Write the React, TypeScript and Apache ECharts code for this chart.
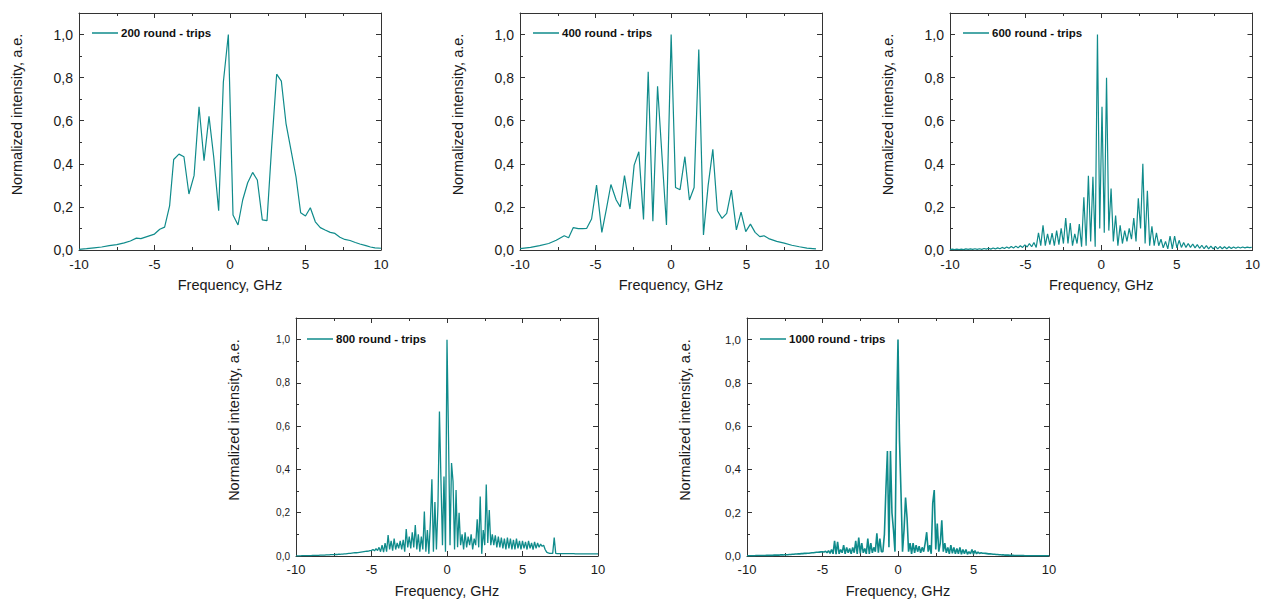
import React, { useEffect, useRef } from 'react';
import * as echarts from 'echarts';

// ---------- data ----------
const names = ['200 round - trips', '400 round - trips', '600 round - trips', '800 round - trips', '1000 round - trips'];

const f200 = [-10, -9.5, -9, -8.5, -8, -7.5, -7, -6.6, -6.2, -5.9, -5.6, -5.3, -5.0, -4.65, -4.33, -4.0, -3.73, -3.38, -3.05, -2.72, -2.38, -2.05, -1.72, -1.39, -1.08, -0.75, -0.44, -0.11, 0.2, 0.53, 0.84, 1.17, 1.5, 1.81, 2.14, 2.45, 2.76, 3.09, 3.4, 3.71, 4.04, 4.37, 4.68, 5.0, 5.32, 5.65, 5.98, 6.3, 6.64, 6.95, 7.28, 7.6, 7.95, 8.3, 8.6, 9.0, 9.3, 9.6, 10];
const i200 = [0.003, 0.006, 0.01, 0.014, 0.02, 0.025, 0.033, 0.042, 0.055, 0.053, 0.06, 0.067, 0.074, 0.096, 0.106, 0.205, 0.42, 0.445, 0.433, 0.26, 0.345, 0.665, 0.415, 0.62, 0.433, 0.182, 0.78, 1.0, 0.162, 0.116, 0.232, 0.312, 0.36, 0.325, 0.14, 0.136, 0.48, 0.816, 0.784, 0.587, 0.464, 0.34, 0.173, 0.158, 0.196, 0.131, 0.104, 0.093, 0.082, 0.077, 0.059, 0.049, 0.044, 0.035, 0.028, 0.02, 0.014, 0.01, 0.008];

const f400 = [-10, -9.3, -8.7, -8.1, -7.6, -7.07, -6.78, -6.47, -6.14, -5.85, -5.59, -5.26, -4.93, -4.58, -4.28, -3.98, -3.63, -3.36, -3.08, -2.72, -2.44, -2.13, -1.82, -1.51, -1.2, -0.89, -0.6, -0.3, 0.01, 0.3, 0.6, 0.92, 1.22, 1.53, 1.84, 2.15, 2.46, 2.77, 3.07, 3.38, 3.69, 4.0, 4.33, 4.64, 4.95, 5.26, 5.57, 5.88, 6.16, 6.47, 7.0, 7.5, 8.0, 8.5, 9.0, 9.6];
const i400 = [0.006, 0.012, 0.02, 0.03, 0.045, 0.066, 0.057, 0.104, 0.099, 0.099, 0.1, 0.144, 0.301, 0.082, 0.19, 0.304, 0.232, 0.2, 0.345, 0.19, 0.394, 0.456, 0.142, 0.827, 0.133, 0.76, 0.44, 0.116, 1.0, 0.29, 0.28, 0.433, 0.232, 0.29, 0.93, 0.07, 0.3, 0.467, 0.182, 0.147, 0.17, 0.278, 0.093, 0.176, 0.085, 0.12, 0.082, 0.062, 0.066, 0.053, 0.04, 0.032, 0.022, 0.015, 0.009, 0.005];

// 600 round-trips: samples every 0.15 GHz from -10 GHz
const start600 = -10;
const step600 = 0.15;
const i600 = [
  0.002, 0.004, 0.002, 0.004, 0.002, 0.004, 0.002, 0.005, 0.003, 0.005,
  0.003, 0.006, 0.003, 0.006, 0.003, 0.007, 0.004, 0.008, 0.004, 0.009,
  0.005, 0.01, 0.006, 0.012, 0.007, 0.014, 0.008, 0.016, 0.009, 0.018,
  0.01, 0.02, 0.012, 0.024, 0.014, 0.03, 0.015, 0.035, 0.012, 0.08,
  0.02, 0.115, 0.02, 0.075, 0.025, 0.078, 0.02, 0.09, 0.025, 0.1,
  0.03, 0.148, 0.03, 0.125, 0.02, 0.075, 0.03, 0.12, 0.015, 0.245,
  0.02, 0.345, 0.04, 0.34, 0.015, 1.0, 0.1, 0.665, 0.08, 0.8,
  0.09, 0.285, 0.04, 0.16, 0.02, 0.115, 0.03, 0.09, 0.04, 0.1,
  0.05, 0.148, 0.04, 0.24, 0.1, 0.4, 0.03, 0.275, 0.02, 0.11,
  0.02, 0.08, 0.02, 0.05, 0.01, 0.04, 0.005, 0.065, 0.005, 0.065,
  0.01, 0.045, 0.012, 0.035, 0.012, 0.03, 0.012, 0.028, 0.01, 0.025,
  0.008, 0.022, 0.006, 0.02, 0.005, 0.018, 0.005, 0.017, 0.005, 0.016,
  0.006, 0.015, 0.006, 0.015, 0.007, 0.014, 0.008, 0.014, 0.009, 0.014,
  0.01, 0.013, 0.011, 0.012,
];

// 800 round-trips: samples every 0.1 GHz from -10 GHz
const start800 = -10;
const step800 = 0.1;
const i800 = [
  0.001, 0.001, 0.001, 0.001, 0.002, 0.002, 0.002, 0.002, 0.002, 0.002,
  0.002, 0.003, 0.003, 0.003, 0.003, 0.003, 0.004, 0.004, 0.004, 0.004,
  0.005, 0.005, 0.005, 0.006, 0.006, 0.006, 0.007, 0.007, 0.008, 0.008,
  0.009, 0.009, 0.01, 0.01, 0.011, 0.012, 0.012, 0.013, 0.014, 0.015,
  0.015, 0.016, 0.017, 0.018, 0.019, 0.02, 0.021, 0.022, 0.023, 0.025,
  0.026, 0.03, 0.024, 0.034, 0.025, 0.04, 0.02, 0.05, 0.018, 0.06,
  0.02, 0.097, 0.03, 0.07, 0.025, 0.08, 0.03, 0.06, 0.035, 0.07,
  0.03, 0.075, 0.02, 0.125, 0.04, 0.09, 0.035, 0.11, 0.04, 0.143,
  0.03, 0.1, 0.02, 0.09, 0.03, 0.205, 0.02, 0.12, 0.01, 0.16,
  0.355, 0.02, 0.25, 0.03, 0.23, 0.668, 0.35, 0.05, 0.367, 0.02,
  1.0, 0.55, 0.05, 0.43, 0.344, 0.03, 0.305, 0.04, 0.2, 0.05,
  0.1, 0.03, 0.11, 0.04, 0.09, 0.05, 0.1, 0.03, 0.08, 0.05,
  0.17, 0.04, 0.275, 0.01, 0.12, 0.05, 0.33, 0.06, 0.213, 0.05,
  0.1, 0.05, 0.095, 0.04, 0.09, 0.04, 0.085, 0.035, 0.08, 0.03,
  0.085, 0.035, 0.08, 0.03, 0.075, 0.03, 0.08, 0.035, 0.07, 0.03,
  0.07, 0.035, 0.065, 0.03, 0.07, 0.035, 0.06, 0.03, 0.065, 0.035,
  0.06, 0.04, 0.055, 0.045, 0.05, 0.03, 0.018, 0.014, 0.012, 0.012,
  0.012, 0.085, 0.012, 0.011, 0.011, 0.011, 0.011, 0.011, 0.011, 0.011,
  0.011, 0.011, 0.011, 0.011, 0.011, 0.01, 0.01, 0.01, 0.01, 0.01,
  0.01, 0.01, 0.01, 0.01, 0.01, 0.01, 0.01, 0.01, 0.01, 0.01,
  0.01,
];

// 1000 round-trips: samples every 0.1 GHz from -10 GHz
const start1000 = -10;
const step1000 = 0.1;
const i1000 = [
  0.001, 0.001, 0.001, 0.001, 0.001, 0.001, 0.002, 0.002, 0.002, 0.002,
  0.002, 0.002, 0.002, 0.003, 0.003, 0.003, 0.003, 0.003, 0.004, 0.004,
  0.004, 0.004, 0.005, 0.005, 0.005, 0.006, 0.006, 0.006, 0.007, 0.007,
  0.008, 0.008, 0.009, 0.009, 0.01, 0.01, 0.011, 0.011, 0.012, 0.012,
  0.013, 0.013, 0.014, 0.015, 0.015, 0.016, 0.017, 0.017, 0.018, 0.019,
  0.02, 0.018, 0.022, 0.015, 0.025, 0.012, 0.03, 0.01, 0.07, 0.008,
  0.065, 0.01, 0.03, 0.015, 0.05, 0.01, 0.04, 0.015, 0.035, 0.01,
  0.04, 0.015, 0.07, 0.01, 0.085, 0.012, 0.06, 0.015, 0.035, 0.01,
  0.08, 0.01, 0.06, 0.015, 0.04, 0.02, 0.105, 0.015, 0.08, 0.02,
  0.02, 0.1, 0.31, 0.485, 0.04, 0.485, 0.2, 0.12, 0.02, 0.615,
  1.0, 0.53, 0.29, 0.02, 0.12, 0.27, 0.175, 0.02, 0.06, 0.01,
  0.06, 0.015, 0.05, 0.02, 0.045, 0.015, 0.04, 0.02, 0.06, 0.11,
  0.02, 0.05, 0.01, 0.245, 0.305, 0.03, 0.15, 0.02, 0.06, 0.165,
  0.02, 0.06, 0.015, 0.04, 0.01, 0.05, 0.012, 0.04, 0.01, 0.035,
  0.01, 0.04, 0.008, 0.03, 0.01, 0.03, 0.008, 0.02, 0.01, 0.03,
  0.008, 0.025, 0.01, 0.018, 0.012, 0.015, 0.013, 0.013, 0.012, 0.011,
  0.01, 0.01, 0.009, 0.008, 0.008, 0.007, 0.007, 0.006, 0.006, 0.005,
  0.005, 0.004, 0.004, 0.004, 0.003, 0.003, 0.003, 0.002, 0.002, 0.002,
  0.002, 0.002, 0.002, 0.002, 0.001, 0.001, 0.001, 0.001, 0.001, 0.001,
  0.001, 0.001, 0.001, 0.001, 0.001, 0.001, 0.001, 0.001, 0.001, 0.001,
  0.001,
];

const xTitle = 'Frequency, GHz';
const yTitle = 'Normalized intensity, a.e.';
const xTicks = { min: -10, max: 10, interval: 5 };
const yTicks = { min: 0, max: 1.1, interval: 0.2 };

// ---------- build ----------
const paired = (xs: number[], ys: number[]) => ys.map((y, i) => [xs[i], y]);
const stepped = (x0: number, dx: number, ys: number[]) =>
  ys.map((y, i) => [Math.round((x0 + i * dx) * 1000) / 1000, y]);

const seriesData = [
  paired(f200, i200),
  paired(f400, i400),
  stepped(start600, step600, i600),
  stepped(start800, step800, i800),
  stepped(start1000, step1000, i1000),
];

const layout = [
  { grid: { left: 79, top: 13, width: 302, height: 237 }, legend: { left: 92, top: 27 }, xFont: 13.5, yFont: 14, lw: 1.2 },
  { grid: { left: 520, top: 13, width: 302, height: 237 }, legend: { left: 533, top: 27 }, xFont: 13.5, yFont: 14, lw: 1.2 },
  { grid: { left: 950, top: 13, width: 303, height: 237 }, legend: { left: 963, top: 27 }, xFont: 13.5, yFont: 14, lw: 1.2 },
  { grid: { left: 296, top: 318, width: 302, height: 238 }, legend: { left: 307, top: 333 }, xFont: 13, yFont: 10, lw: 1.3 },
  { grid: { left: 747, top: 318, width: 302, height: 238 }, legend: { left: 760, top: 333 }, xFont: 13, yFont: 11.5, lw: 1.6 },
];

const LINE = '#0f8b8b';
const AX = '#333333';
const TXT = '#1a1a1a';
const FONT = '"Liberation Sans", Arial, sans-serif';

function buildOption() {
  const grid: any[] = [];
  const xAxis: any[] = [];
  const yAxis: any[] = [];
  const legend: any[] = [];
  const series: any[] = [];
  const axLine = { onZero: false, lineStyle: { color: AX, width: 1 } };
  const tick = { inside: true, length: 5, lineStyle: { color: AX, width: 1 } };
  const minor = { show: true, splitNumber: 2, length: 3, lineStyle: { color: AX, width: 1 } };
  layout.forEach((L, k) => {
    grid.push({ ...L.grid, containLabel: false });
    const xi = xAxis.length;
    xAxis.push({
      type: 'value', gridIndex: k, position: 'bottom', ...xTicks,
      axisLine: axLine, axisTick: tick, minorTick: minor,
      splitLine: { show: false }, minorSplitLine: { show: false },
      axisLabel: { margin: 7, fontSize: L.xFont, color: TXT, fontFamily: FONT },
      name: xTitle, nameLocation: 'middle', nameGap: 27,
      nameTextStyle: { fontSize: 14.5, color: TXT, fontFamily: FONT },
    });
    xAxis.push({
      type: 'value', gridIndex: k, position: 'top', ...xTicks,
      axisLine: axLine, axisTick: tick, minorTick: minor,
      splitLine: { show: false }, minorSplitLine: { show: false },
      axisLabel: { show: false },
    });
    const yi = yAxis.length;
    yAxis.push({
      type: 'value', gridIndex: k, position: 'left', ...yTicks,
      axisLine: axLine, axisTick: tick, minorTick: minor,
      splitLine: { show: false }, minorSplitLine: { show: false },
      axisLabel: {
        margin: 6, fontSize: L.yFont, color: TXT, fontFamily: FONT,
        formatter: (v: number) => (Math.abs(v * 5 - Math.round(v * 5)) < 1e-6 ? v.toFixed(1).replace('.', ',') : ''),
      },
      name: yTitle, nameLocation: 'middle', nameGap: 55,
      nameTextStyle: { fontSize: 14.5, color: TXT, fontFamily: FONT, padding: [0, 0, 0, 34] },
    });
    yAxis.push({
      type: 'value', gridIndex: k, position: 'right', ...yTicks,
      axisLine: axLine, axisTick: tick, minorTick: minor,
      splitLine: { show: false }, minorSplitLine: { show: false },
      axisLabel: { show: false },
    });
    legend.push({
      data: [names[k]], left: L.legend.left, top: L.legend.top, padding: 0,
      icon: 'rect', itemWidth: 26, itemHeight: 1.5, selectedMode: false,
      textStyle: { fontWeight: 'bold', fontSize: 11.5, color: '#111', fontFamily: FONT, padding: [0, 0, 0, -2] },
    });
    series.push({
      name: names[k], type: 'line', xAxisIndex: xi, yAxisIndex: yi,
      data: seriesData[k], showSymbol: false, symbol: 'none',
      color: LINE, lineStyle: { color: LINE, width: L.lw }, clip: true,
    });
  });
  return { animation: false, backgroundColor: '#ffffff', textStyle: { fontFamily: FONT }, grid, xAxis, yAxis, legend, series };
}

export default function App() {
  const ref = useRef<HTMLDivElement>(null);
  useEffect(() => {
    if (!ref.current) return;
    const chart = echarts.init(ref.current, undefined, { renderer: 'svg' });
    chart.setOption(buildOption() as any);
    return () => chart.dispose();
  }, []);
  return <div ref={ref} style={{ position: 'absolute', left: 0, top: 0, width: 1263, height: 604 }} />;
}
